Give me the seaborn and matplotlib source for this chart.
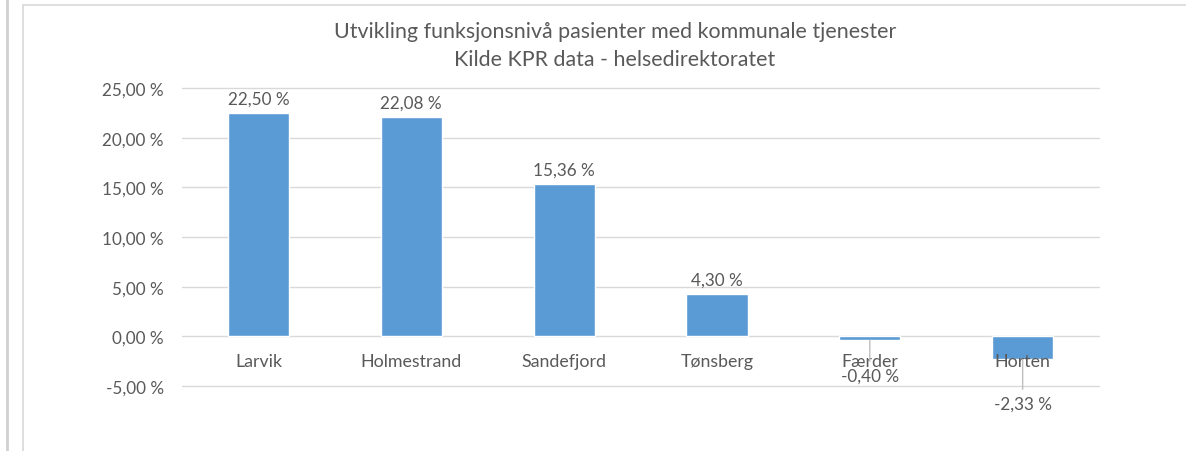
import matplotlib.pyplot as plt
import matplotlib.ticker as mticker
from matplotlib.lines import Line2D
import pandas as pd
import seaborn as sns

# Data
kommuner = ["Larvik", "Holmestrand", "Sandefjord", "Tønsberg", "Færder", "Horten"]
endring = [22.50, 22.08, 15.36, 4.30, -0.40, -2.33]
label_offset = [14, 14, 14, 14, -39, -67]  # px, Excel places the negative labels below

df = pd.DataFrame({"kommune": kommuner, "endring": endring})

sns.set_style("white")
plt.rcParams["font.family"] = ["Lato", "DejaVu Sans"]
grey = "#595959"

fig = plt.figure(figsize=(11.86, 4.52), dpi=100)
ax = fig.add_axes([0.1535, 0.1438, 0.7732, 0.6593])

sns.barplot(data=df, x="kommune", y="endring", color="#5B9BD5", width=0.4,
            saturation=1, ax=ax, zorder=3)

ax.set_ylim(-5, 25)
ax.yaxis.set_major_locator(mticker.MultipleLocator(5))
ax.yaxis.set_major_formatter(
    mticker.FuncFormatter(lambda v, p: f"{v:.2f} %".replace(".", ",")))
ax.grid(axis="y", color="#d9d9d9", lw=1, zorder=0)
for gl in ax.get_ygridlines():
    gl.set_clip_on(False)
ax.tick_params(axis="y", length=0, pad=13, labelsize=12.3, labelcolor=grey)
ax.set_xticks([])
ax.set_xlabel("")
ax.set_ylabel("")
sns.despine(ax=ax, left=True, bottom=True)

# category names sit just under the zero line
for i, navn in enumerate(kommuner):
    ax.annotate(navn, (i, 0), xytext=(0, -25), textcoords="offset pixels",
                ha="center", va="center", fontsize=12.8, color=grey, zorder=5)

# data labels
for i, (v, off) in enumerate(zip(endring, label_offset)):
    txt = f"{v:.2f} %".replace(".", ",")
    if v >= 0:
        ax.annotate(txt, (i, v), xytext=(0, off), textcoords="offset pixels",
                    ha="center", va="center", fontsize=12.3, color=grey)
    else:
        ax.annotate(txt, (i, v), xytext=(0, off - v * 9.93), textcoords="offset pixels",
                    ha="center", va="center", fontsize=12.3, color=grey, zorder=6,
                    arrowprops=dict(arrowstyle="-", color="#bfbfbf", lw=1,
                                    shrinkA=2, shrinkB=0))

fig.suptitle("Utvikling funksjonsnivå pasienter med kommunale tjenester\n"
             "Kilde KPR data - helsedirektoratet",
             x=615 / 1186, y=0.952, fontsize=15.4, color=grey, linespacing=1.5)

# chart frame like the screenshot
fig.add_artist(Line2D([7 / 1186, 7 / 1186], [0, 1], color="#d0d0d0", lw=2))
fig.add_artist(Line2D([23 / 1186, 23 / 1186], [0, 1 - 6 / 452], color="#d9d9d9", lw=1.2))
fig.add_artist(Line2D([23 / 1186, 1], [1 - 6 / 452, 1 - 6 / 452], color="#d9d9d9", lw=1.2))

fig.savefig("out.png", dpi=100)
